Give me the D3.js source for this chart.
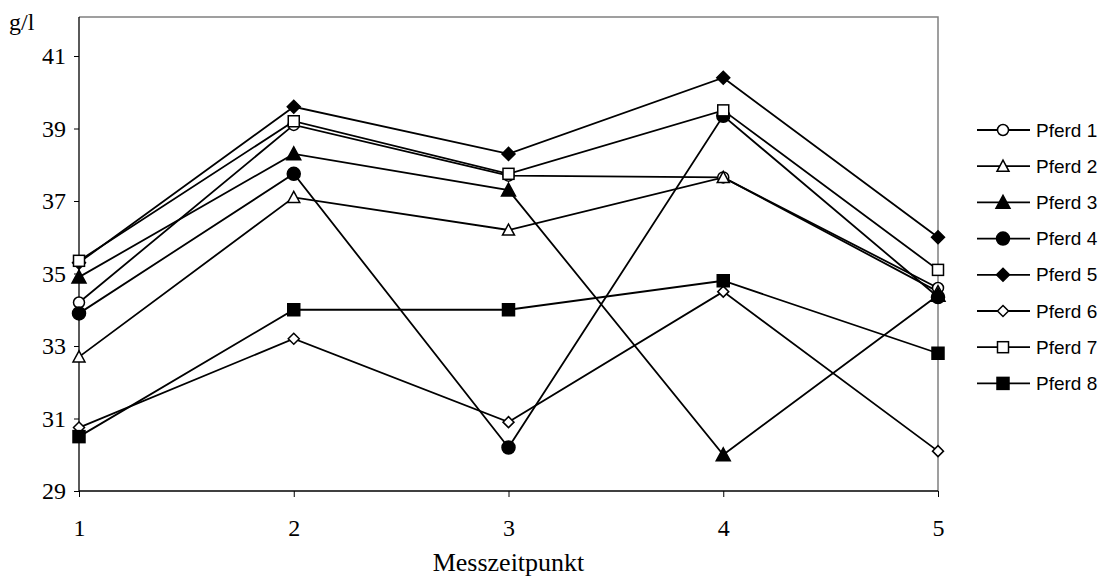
<!DOCTYPE html>
<html><head><meta charset="utf-8">
<script src="https://cdn.jsdelivr.net/npm/d3@7"></script>
<style>body{margin:0;background:#fff}svg{display:block}</style>
</head><body><svg id="c" width="1110" height="578"></svg>
<script>
const categories = [1, 2, 3, 4, 5];
const yTicks = [29, 31, 33, 35, 37, 39, 41];
const seriesNames = ["Pferd 1","Pferd 2","Pferd 3","Pferd 4","Pferd 5","Pferd 6","Pferd 7","Pferd 8"];
const pferd1 = [34.2, 39.1, 37.7, 37.65, 34.6];
const pferd2 = [32.7, 37.1, 36.2, 37.65, 34.5];
const pferd3 = [34.9, 38.3, 37.3, 30.0, 34.4];
const pferd4 = [33.9, 37.75, 30.2, 39.35, 34.35];
const pferd5 = [35.3, 39.6, 38.3, 40.4, 36.0];
const pferd6 = [30.75, 33.2, 30.9, 34.5, 30.1];
const pferd7 = [35.35, 39.2, 37.75, 39.5, 35.1];
const pferd8 = [30.5, 34.0, 34.0, 34.8, 32.8];
const allValues = [pferd1,pferd2,pferd3,pferd4,pferd5,pferd6,pferd7,pferd8];
const markers = ["circle-open","triangle-open","triangle","circle","diamond","diamond-open","square-open","square"];

const svg = d3.select("#c");
const x = d3.scaleLinear().domain([1,5]).range([79,938]);
const y = d3.scaleLinear().domain([29,41]).range([491,56]);
const yTop = 17;
const serif = "'Liberation Serif','Times New Roman',serif";
const fs = 24;

// frame (gray top/right)
svg.append("path").attr("d",`M79,${yTop}H938V491`).attr("fill","none").attr("stroke","#808080").attr("stroke-width",1.5);

// axes
const gy = svg.append("g").attr("transform","translate(79,0)")
  .call(d3.axisLeft(y).tickValues(yTicks).tickSize(5).tickPadding(8).tickFormat(d3.format("d")));
gy.select(".domain").attr("d",`M0,${yTop}V491`).attr("stroke","#000").attr("stroke-width",1.3);
gy.selectAll("text").attr("font-family",serif).style("font-size",fs+"px").attr("fill","#000");
gy.selectAll("line").attr("stroke","#000");

const gx = svg.append("g").attr("transform","translate(0,491)")
  .call(d3.axisBottom(x).tickValues(categories).tickSize(6).tickPadding(22).tickFormat(d3.format("d")));
gx.select(".domain").attr("d","M79,0H938").attr("stroke","#000").attr("stroke-width",1.3);
gx.selectAll("text").attr("font-family",serif).style("font-size",fs+"px").attr("fill","#000");
gx.selectAll("line").attr("stroke","#000");

svg.append("text").attr("x",9).attr("y",30).text("g/l")
  .attr("font-family",serif).style("font-size",fs+"px");
svg.append("text").attr("x",x(3)).attr("y",571).attr("text-anchor","middle").text("Messzeitpunkt")
  .attr("font-family",serif).style("font-size","26px");

function drawMarker(g, type, cx, cy) {
  const filled = !type.endsWith("-open");
  const base = type.replace("-open","");
  let el;
  if (base === "circle") {
    el = g.append("circle").attr("cx",cx).attr("cy",cy).attr("r", filled ? 6.5 : 5.5);
  } else if (base === "square") {
    const s = filled ? 12 : 11;
    el = g.append("rect").attr("x",cx-s/2).attr("y",cy-s/2).attr("width",s).attr("height",s);
  } else if (base === "triangle") {
    const h = filled ? 7 : 6;
    el = g.append("path").attr("d",`M${cx},${cy-h}L${cx+h},${cy+h*0.85}L${cx-h},${cy+h*0.85}Z`);
  } else if (base === "diamond") {
    const h = filled ? 6.5 : 5.5;
    el = g.append("path").attr("d",`M${cx},${cy-h}L${cx+h},${cy}L${cx},${cy+h}L${cx-h},${cy}Z`);
  }
  el.attr("fill", filled ? "#000" : "#fff").attr("stroke","#000").attr("stroke-width",1.5);
}

const line = d3.line().x((d,i)=>x(categories[i])).y(d=>y(d));
allValues.forEach((vals,si)=>{
  svg.append("path").attr("d",line(vals)).attr("fill","none").attr("stroke","#000").attr("stroke-width",1.8);
});
allValues.forEach((vals,si)=>{
  const g = svg.append("g");
  vals.forEach((v,i)=>drawMarker(g, markers[si], x(categories[i]), y(v)));
});

// legend
const leg = svg.append("g");
seriesNames.forEach((name,i)=>{
  const ly = 130 + i*36.2;
  const g = leg.append("g");
  g.append("line").attr("x1",977).attr("x2",1030).attr("y1",ly).attr("y2",ly).attr("stroke","#000").attr("stroke-width",1.8);
  drawMarker(g, markers[i], 1003, ly);
  g.append("text").attr("x",1036).attr("y",ly+6.5).text(name)
    .attr("font-family","'Liberation Sans',Arial,sans-serif").style("font-size","19px").attr("fill","#000");
});
</script></body></html>
